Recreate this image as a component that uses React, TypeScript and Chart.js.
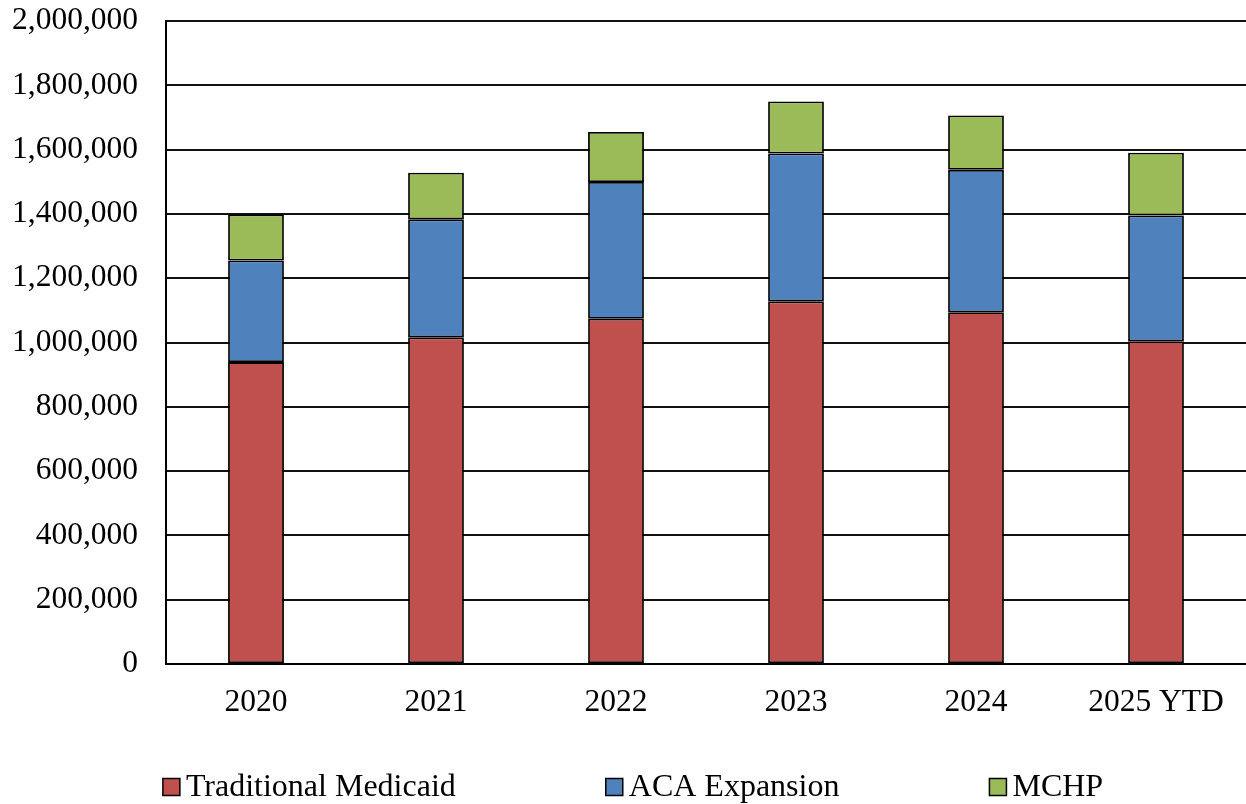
import React, { useEffect, useRef } from "react";
import { Chart, registerables } from "chart.js";

Chart.register(...registerables);

const categories = ["2020", "2021", "2022", "2023", "2024", "2025 YTD"];
const traditionalMedicaid = [939000, 1016000, 1074000, 1128000, 1094000, 1004000];
const acaExpansion = [316000, 367000, 425000, 460000, 443000, 391000];
const mchp = [143000, 145000, 156000, 162000, 169000, 195000];
const yTicks = [0, 200000, 400000, 600000, 800000, 1000000, 1200000, 1400000, 1600000, 1800000, 2000000];

const FONT = '"Liberation Serif", "Times New Roman", serif';
const FONT_SIZE = 31.5;
const LEGEND_FONT_SIZE = 32;

const bottomLegend = {
  id: "bottomLegend",
  afterDraw(chart: any) {
    const ctx = chart.ctx;
    const box = 17;
    const textGap = 6;
    const itemGap = 150;
    ctx.save();
    ctx.font = `${LEGEND_FONT_SIZE}px ${FONT}`;
    const items = chart.data.datasets.map((ds: any) => {
      const w = ctx.measureText(ds.label).width;
      return { label: ds.label, color: ds.backgroundColor, w: box + textGap + w };
    });
    const total = items.reduce((s: number, it: any) => s + it.w, 0) + itemGap * (items.length - 1);
    let x = (chart.width - total) / 2 + 10;
    const cy = chart.height - 17;
    items.forEach((it: any) => {
      ctx.fillStyle = it.color;
      ctx.fillRect(x, cy - box / 2, box, box);
      ctx.strokeStyle = "#000";
      ctx.lineWidth = 1.5;
      ctx.strokeRect(x, cy - box / 2, box, box);
      ctx.fillStyle = "#000";
      ctx.textBaseline = "middle";
      ctx.textAlign = "left";
      ctx.fillText(it.label, x + box + textGap, cy + 1);
      x += it.w + itemGap;
    });
    ctx.restore();
  },
};

export default function App() {
  const canvasRef = useRef<HTMLCanvasElement | null>(null);

  useEffect(() => {
    if (!canvasRef.current) return;
    const barStyle = {
      borderColor: "#000",
      borderWidth: 1.8,
      borderSkipped: false as const,
      categoryPercentage: 1,
      barPercentage: 0.31,
    };
    const chart = new Chart(canvasRef.current, {
      type: "bar",
      data: {
        labels: categories,
        datasets: [
          { label: "Traditional Medicaid", data: traditionalMedicaid, backgroundColor: "#C0504D", ...barStyle },
          { label: "ACA Expansion", data: acaExpansion, backgroundColor: "#4F81BD", ...barStyle },
          { label: "MCHP", data: mchp, backgroundColor: "#9BBB59", ...barStyle },
        ],
      },
      options: {
        animation: false,
        responsive: true,
        maintainAspectRatio: false,
        layout: { padding: { top: 21, right: 0, bottom: 84, left: 13 } },
        plugins: {
          legend: { display: false },
          title: { display: false },
          tooltip: { enabled: false },
        },
        scales: {
          x: {
            stacked: true,
            grid: { display: false, drawTicks: false },
            border: { display: true, color: "#000", width: 2 },
            afterFit: (axis: any) => {
              axis.height = 56;
              axis.paddingLeft = 0;
              axis.paddingRight = 0;
            },
            ticks: {
              color: "#000",
              font: { family: FONT, size: FONT_SIZE },
              padding: 20,
              maxRotation: 0,
            },
          },
          y: {
            stacked: true,
            min: 0,
            max: 2000000,
            afterBuildTicks: (axis: any) => {
              axis.ticks = yTicks.map((v) => ({ value: v }));
            },
            afterFit: (axis: any) => {
              axis.width = 153;
              axis.paddingTop = 0;
              axis.paddingBottom = 0;
            },
            grid: { color: "#111", lineWidth: 2, drawTicks: false },
            border: { display: true, color: "#000", width: 2 },
            ticks: {
              color: "#000",
              font: { family: FONT, size: FONT_SIZE },
              padding: 28,
              callback: (v: any) => Number(v).toLocaleString("en-US"),
            },
          },
        },
      },
      plugins: [bottomLegend],
    });
    return () => chart.destroy();
  }, []);

  return (
    <div style={{ position: "absolute", left: 0, top: 0, width: 1246, height: 804, background: "#fff" }}>
      <canvas ref={canvasRef} />
    </div>
  );
}
